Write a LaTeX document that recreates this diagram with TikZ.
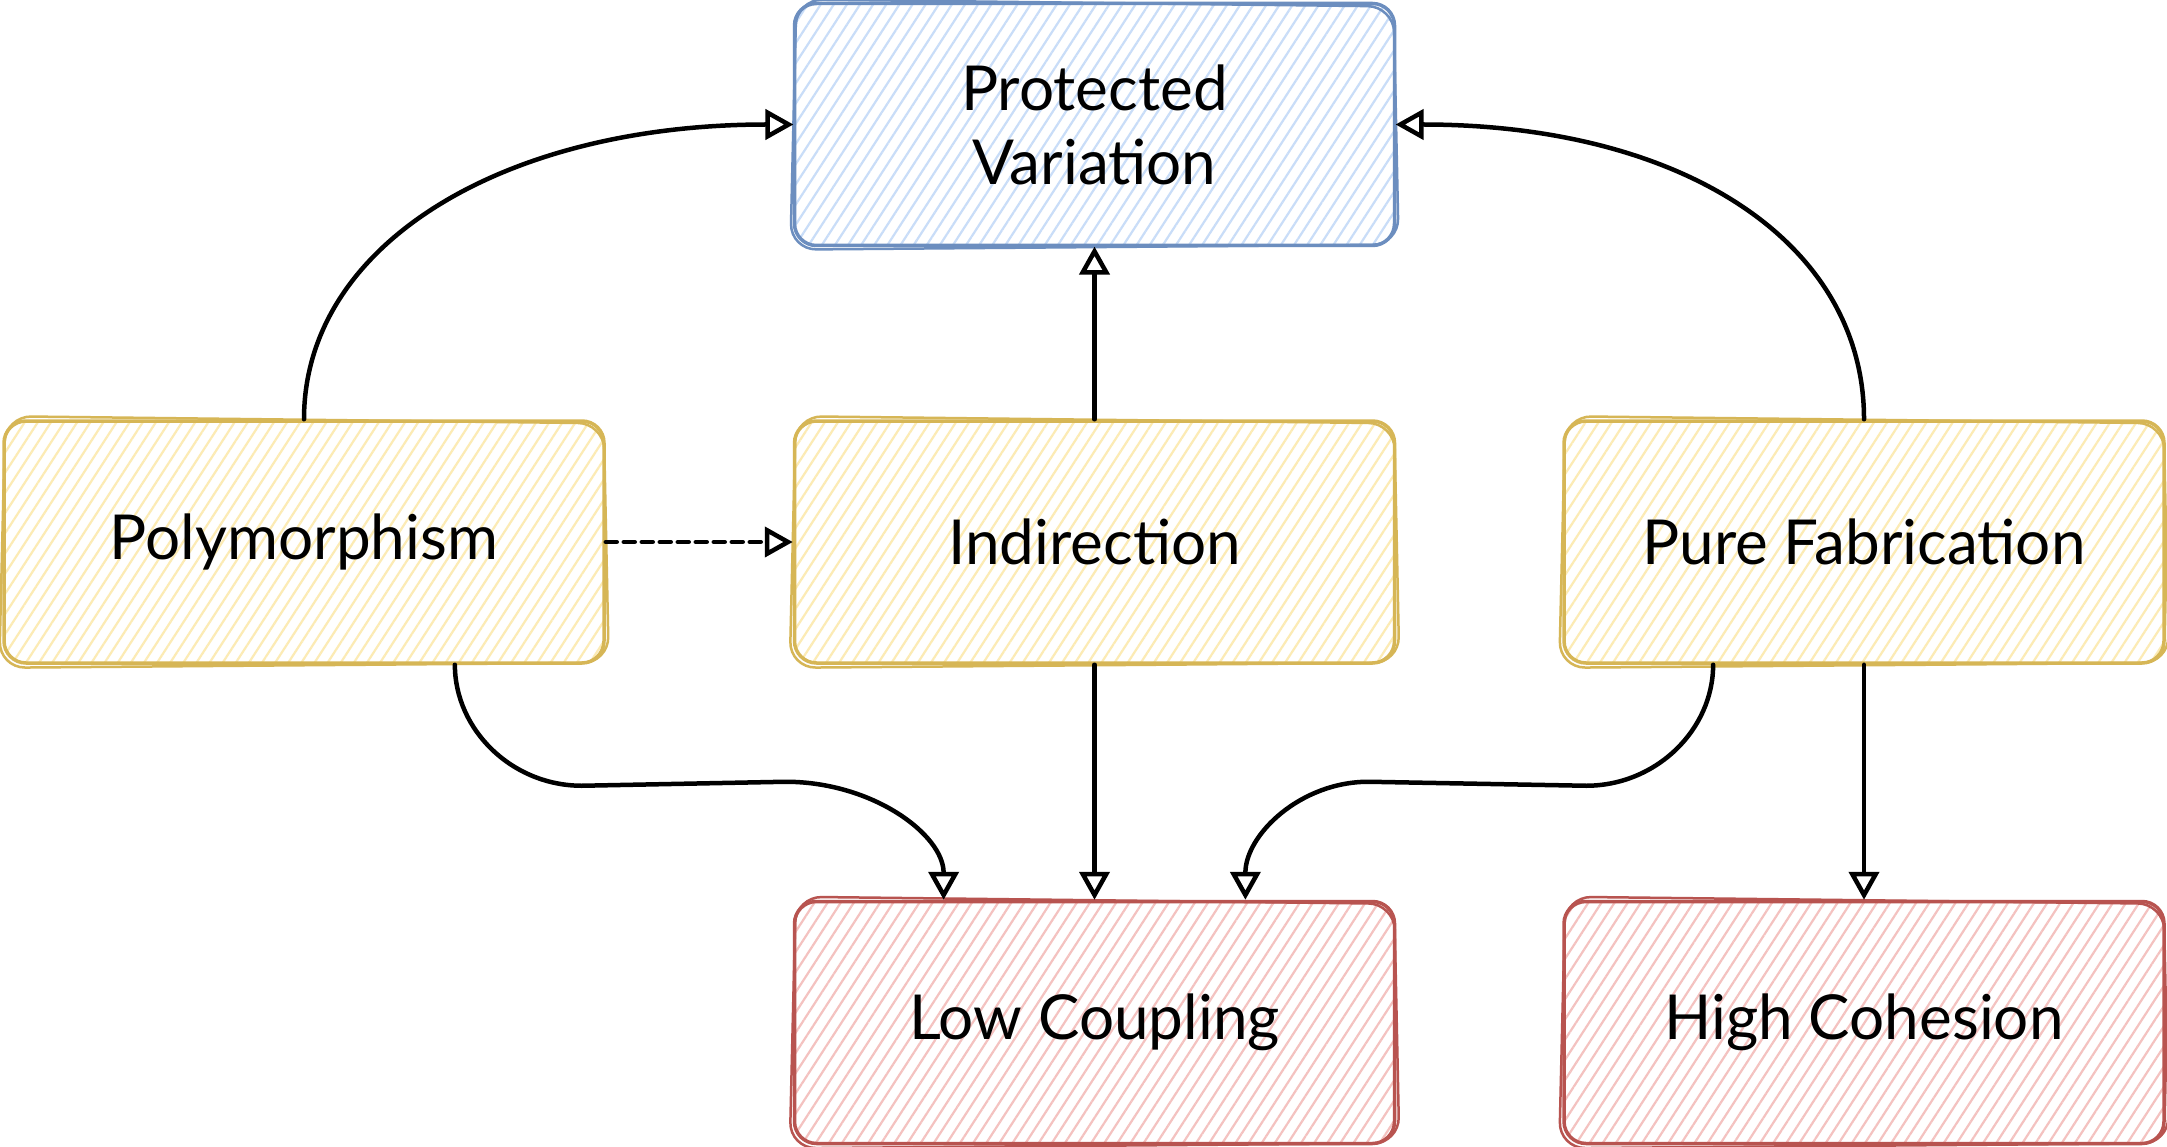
\documentclass[tikz,border=0pt]{standalone}
\usepackage{fontspec}
\setmainfont{Lato}
\usetikzlibrary{arrows.meta,patterns.meta,calc}
\definecolor{bluefill}{HTML}{C9DDF8}
\definecolor{bluedraw}{HTML}{6C8EBF}
\definecolor{yelfill}{HTML}{FCEBB4}
\definecolor{yeldraw}{HTML}{D6B656}
\definecolor{redfill}{HTML}{F4C2C0}
\definecolor{reddraw}{HTML}{B85450}
\definecolor{ink}{HTML}{000000}
\newcommand{\sketchbox}[6]{%
  \node[box, draw=#5, pattern color=#4] (#1) at (#2,#3) {#6};
  \draw[#5, line width=2.5pt, rounded corners=26pt]
    ($(#1.north west)+(3,-3)$) -- ($(#1.north east)+(-2,4)$) --
    ($(#1.south east)+(3,-2)$) -- ($(#1.south west)+(-3,3)$) -- cycle;
}
\begin{document}
\begin{tikzpicture}[x=1pt,y=-1pt,
  box/.style={rounded corners=22pt, minimum width=600pt, minimum height=242pt,
    line width=3.5pt, align=center, text=ink, inner sep=0pt,
    pattern={Lines[angle=57,distance=11pt,line width=2.2pt]},
    font=\fontsize{62}{74}\selectfont},
  arr/.style={draw=ink, line width=4.5pt, line cap=round,
    -{Triangle[open,length=28pt,width=30pt,line width=4.5pt]}},
  dasharr/.style={arr, dash pattern=on 11pt off 7pt}
]
\fill[white] (0,0) rectangle (2167,1147);
\useasboundingbox (0,0) rectangle (2167,1147);

\sketchbox{pv}{1094.5}{124.5}{bluefill}{bluedraw}{Protected\\Variation}
\sketchbox{poly}{304}{542}{yelfill}{yeldraw}{Polymorphism}
\sketchbox{ind}{1094.5}{542}{yelfill}{yeldraw}{Indirection}
\sketchbox{pf}{1864}{542}{yelfill}{yeldraw}{Pure Fabrication}
\sketchbox{lc}{1094.5}{1022.5}{redfill}{reddraw}{Low Coupling}
\sketchbox{hc}{1864}{1022.5}{redfill}{reddraw}{High Cohesion}

\coordinate (p34) at ($(poly.south west)!0.75!(poly.south east)$);
\coordinate (l14) at ($(lc.north west)!0.25!(lc.north east)$);
\coordinate (f14) at ($(pf.south west)!0.25!(pf.south east)$);
\coordinate (l34) at ($(lc.north west)!0.75!(lc.north east)$);

\draw[arr] (poly.north) .. controls ($(poly.north)+(0,-175)$) and ($(pv.west)+(-290,0)$) .. (pv.west);
\draw[arr] (pf.north) .. controls ($(pf.north)+(0,-175)$) and ($(pv.east)+(290,0)$) .. (pv.east);
\draw[arr] (ind.north) -- (pv.south);
\draw[dasharr] (poly.east) -- (ind.west);
\draw[arr] (p34) .. controls ($(p34)+(0,65)$) and ($(p34)+(57,121)$) .. ($(p34)+(127,121)$)
  -- ($(l14)+(-158,-118)$) .. controls ($(l14)+(-71,-118)$) and ($(l14)+(0,-65)$) .. (l14);
\draw[arr] (ind.south) -- (lc.north);
\draw[arr] (f14) .. controls ($(f14)+(0,65)$) and ($(f14)+(-57,121)$) .. ($(f14)+(-127,121)$)
  -- ($(l34)+(123,-118)$) .. controls ($(l34)+(55,-118)$) and ($(l34)+(0,-65)$) .. (l34);
\draw[arr] (pf.south) -- (hc.north);
\end{tikzpicture}
\end{document}
